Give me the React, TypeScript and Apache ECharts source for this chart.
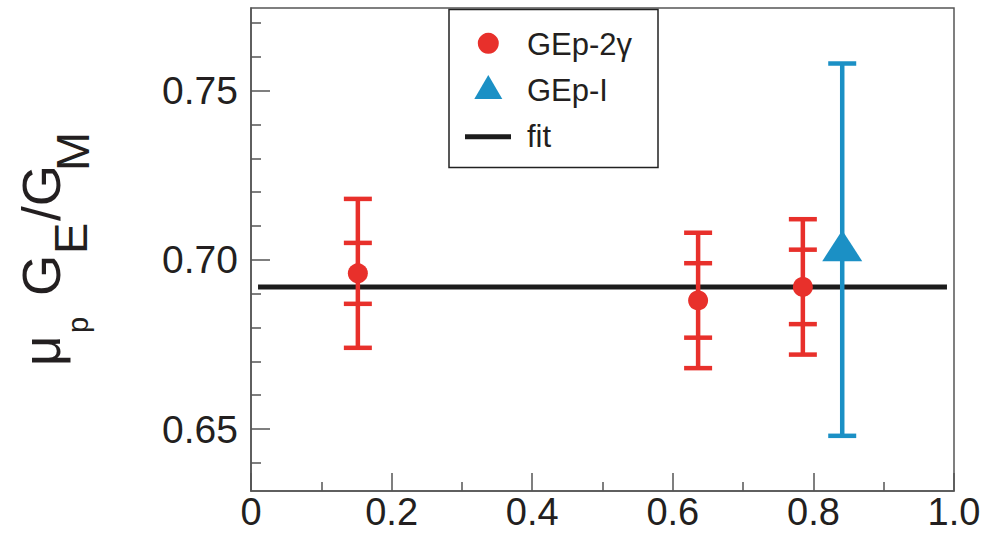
import React, { useEffect, useRef } from "react";
import * as echarts from "echarts";

// ---------- data ----------
const gep2gX = [0.152, 0.636, 0.785];
const gep2gY = [0.696, 0.688, 0.692];
const gep2gStat = [0.009, 0.011, 0.011];
const gep2gTot = [0.022, 0.020, 0.020];

const gepIX = [0.841];
const gepIY = [0.703];
const gepITot = [0.055];

const fitValue = 0.692;
const fitRange = [0.01, 0.99];

const xTicks = [0, 0.2, 0.4, 0.6, 0.8, 1.0];
const xTickLabels = ["0", "0.2", "0.4", "0.6", "0.8", "1.0"];
const yMajor = [0.65, 0.7, 0.75];
const yMajorLabels = ["0.65", "0.70", "0.75"];
const yMinor = [0.64, 0.66, 0.67, 0.68, 0.69, 0.71, 0.72, 0.73, 0.74, 0.76, 0.77];

const legendNames = ["GEp-2γ", "GEp-I", "fit"];

const RED = "#e8302b";
const BLUE = "#1b90c5";
const FIT = "#1c1c1c";
const AXIS = "#555555";
const TEXT = "#231f20";
const FONT = "'Liberation Sans', Arial, Helvetica, sans-serif";

function errorBarSeries(name: string, xs: number[], ys: number[], stat: number[], tot: number[], color: string) {
  const data = xs.map((x, i) => [x, ys[i], stat[i], tot[i]]);
  return {
    type: "custom",
    name,
    data,
    z: 3,
    renderItem: (params: any, api: any) => {
      const x = api.value(0);
      const y = api.value(1);
      const s = api.value(2);
      const t = api.value(3);
      const c = (v: number) => api.coord([x, v]);
      const hi = c(y + t);
      const lo = c(y - t);
      const children: any[] = [
        {
          type: "line",
          shape: { x1: hi[0], y1: hi[1], x2: lo[0], y2: lo[1] },
          style: { stroke: color, lineWidth: 4.5 },
        },
      ];
      const caps = [y + t, y - t];
      if (s > 0) caps.push(y + s, y - s);
      caps.forEach((v) => {
        const p = c(v);
        children.push({
          type: "line",
          shape: { x1: p[0] - 14, y1: p[1], x2: p[0] + 14, y2: p[1] },
          style: { stroke: color, lineWidth: 4.5 },
        });
      });
      return { type: "group", children };
    },
  };
}

export default function App() {
  const ref = useRef<HTMLDivElement>(null);

  useEffect(() => {
    if (!ref.current) return;
    const chart = echarts.init(ref.current, null, { renderer: "svg" });

    const yMin = 0.6317;
    const yMax = 0.7744;

    const option: any = {
      animation: false,
      backgroundColor: "#ffffff",
      grid: {
        left: 251,
        right: 46,
        top: 8,
        bottom: 42,
        show: true,
        borderColor: AXIS,
        borderWidth: 1.5,
        backgroundColor: "transparent",
      },
      xAxis: {
        type: "value",
        min: 0,
        max: 1,
        interval: 0.2,
        axisLine: { show: true, lineStyle: { color: AXIS, width: 1.5 } },
        axisTick: { show: true, inside: true, length: 18, lineStyle: { color: AXIS, width: 1.5 } },
        minorTick: { show: true, splitNumber: 2, length: 9, lineStyle: { color: AXIS, width: 1.5 } },
        splitLine: { show: false },
        minorSplitLine: { show: false },
        axisLabel: {
          show: true,
          margin: 6,
          fontSize: 38,
          lineHeight: 30,
          fontFamily: FONT,
          color: TEXT,
          showMinLabel: true,
          showMaxLabel: true,
          formatter: (v: number) => {
            const i = xTicks.findIndex((t) => Math.abs(t - v) < 1e-6);
            return i >= 0 ? xTickLabels[i] : "";
          },
        },
      },
      yAxis: [
        {
          type: "value",
          min: yMin,
          max: yMax,
          axisLine: { show: true, lineStyle: { color: AXIS, width: 1.5 } },
          axisTick: {
            show: true,
            inside: true,
            length: 19,
            customValues: yMajor,
            lineStyle: { color: AXIS, width: 1.5 },
          },
          splitLine: { show: false },
          axisLabel: {
            show: true,
            margin: 13,
            fontSize: 39,
            fontFamily: FONT,
            color: TEXT,
            customValues: yMajor,
            formatter: (v: number) => {
              const i = yMajor.findIndex((t) => Math.abs(t - v) < 1e-6);
              return i >= 0 ? yMajorLabels[i] : "";
            },
          },
        },
        {
          type: "value",
          min: yMin,
          max: yMax,
          position: "left",
          axisLine: { show: false },
          axisTick: {
            show: true,
            inside: true,
            length: 10,
            customValues: yMinor,
            lineStyle: { color: AXIS, width: 1.5 },
          },
          splitLine: { show: false },
          axisLabel: { show: false },
        },
      ],
      series: [
        {
          type: "line",
          name: legendNames[2],
          data: [
            [fitRange[0], fitValue],
            [fitRange[1], fitValue],
          ],
          showSymbol: false,
          symbol: "none",
          lineStyle: { color: FIT, width: 5 },
          z: 2,
        },
        errorBarSeries(legendNames[0] + " err", gep2gX, gep2gY, gep2gStat, gep2gTot, RED),
        errorBarSeries(
          legendNames[1] + " err",
          gepIX,
          gepIY,
          gepIX.map(() => 0),
          gepITot,
          BLUE
        ),
        {
          type: "scatter",
          name: legendNames[0],
          data: gep2gX.map((x, i) => [x, gep2gY[i]]),
          symbol: "circle",
          symbolSize: 20,
          itemStyle: { color: RED, opacity: 1 },
          z: 4,
        },
        {
          type: "scatter",
          name: legendNames[1],
          data: gepIX.map((x, i) => [x, gepIY[i]]),
          symbol: "triangle",
          symbolSize: [40, 31],
          symbolOffset: [0, -4],
          itemStyle: { color: BLUE, opacity: 1 },
          z: 4,
        },
      ],
      graphic: [
        // legend box
        {
          type: "rect",
          shape: { x: 449, y: 9.5, width: 209, height: 158 },
          style: { fill: "#ffffff", stroke: "#222222", lineWidth: 1.5 },
          z: 10,
        },
        {
          type: "circle",
          shape: { cx: 488.3, cy: 43.3, r: 10.5 },
          style: { fill: RED },
          z: 11,
        },
        {
          type: "polygon",
          shape: {
            points: [
              [488.3, 75],
              [474.3, 99],
              [502.3, 99],
            ],
          },
          style: { fill: BLUE },
          z: 11,
        },
        {
          type: "line",
          shape: { x1: 465, y1: 136.7, x2: 511, y2: 136.7 },
          style: { stroke: FIT, lineWidth: 5 },
          z: 11,
        },
        {
          type: "text",
          x: 527,
          y: 44,
          style: { text: legendNames[0], fontSize: 31, fontFamily: FONT, fill: TEXT, textAlign: "left", textVerticalAlign: "middle" },
          z: 11,
        },
        {
          type: "text",
          x: 527,
          y: 90,
          style: { text: legendNames[1], fontSize: 31, fontFamily: FONT, fill: TEXT, textAlign: "left", textVerticalAlign: "middle" },
          z: 11,
        },
        {
          type: "text",
          x: 527,
          y: 136,
          style: { text: legendNames[2], fontSize: 31, fontFamily: FONT, fill: TEXT, textAlign: "left", textVerticalAlign: "middle" },
          z: 11,
        },
        // y-axis title: mu_p G_E / G_M (rotated)
        {
          type: "text",
          x: 41,
          y: 366,
          rotation: Math.PI / 2,
          style: { text: "μ", fontSize: 53, fontFamily: FONT, fill: TEXT, textAlign: "left", textVerticalAlign: "middle" },
        },
        {
          type: "text",
          x: 78,
          y: 333,
          rotation: Math.PI / 2,
          style: { text: "p", fontSize: 29, fontFamily: FONT, fill: TEXT, textAlign: "left", textVerticalAlign: "middle" },
        },
        {
          type: "text",
          x: 41,
          y: 296,
          rotation: Math.PI / 2,
          style: { text: "G", fontSize: 53, fontFamily: FONT, fill: TEXT, textAlign: "left", textVerticalAlign: "middle" },
        },
        {
          type: "text",
          x: 70,
          y: 254,
          rotation: Math.PI / 2,
          style: { text: "E", fontSize: 47, fontFamily: FONT, fill: TEXT, textAlign: "left", textVerticalAlign: "middle" },
        },
        {
          type: "text",
          x: 41,
          y: 221,
          rotation: Math.PI / 2,
          style: { text: "/G", fontSize: 53, fontFamily: FONT, fill: TEXT, textAlign: "left", textVerticalAlign: "middle" },
        },
        {
          type: "text",
          x: 72,
          y: 171,
          rotation: Math.PI / 2,
          style: { text: "M", fontSize: 47, fontFamily: FONT, fill: TEXT, textAlign: "left", textVerticalAlign: "middle" },
        },
      ],
    };

    chart.setOption(option);
    return () => {
      chart.dispose();
    };
  }, []);

  return (
    <div
      ref={ref}
      style={{ position: "absolute", left: 0, top: 0, width: 1000, height: 533, background: "#fff" }}
    />
  );
}
